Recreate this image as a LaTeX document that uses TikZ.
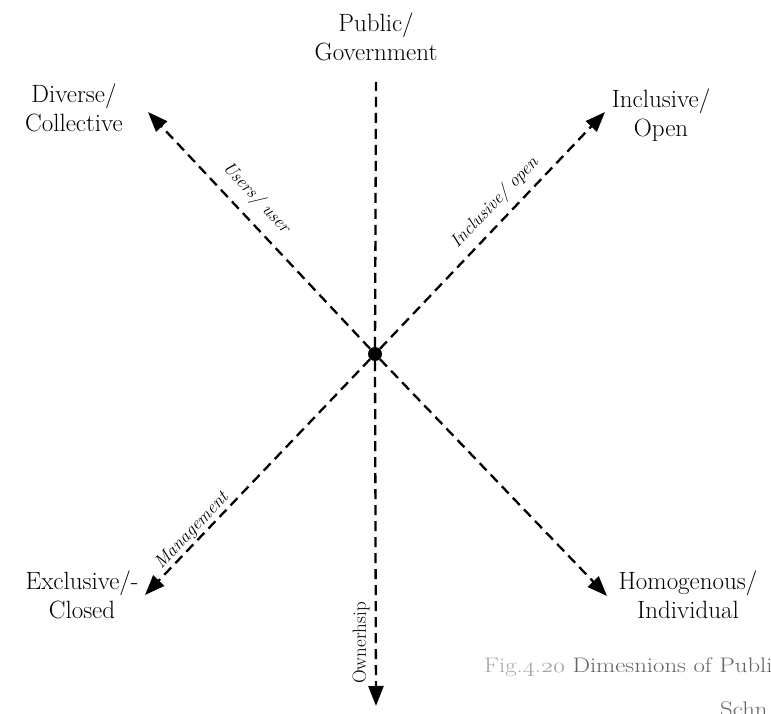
\documentclass[tikz,border=0pt]{standalone}
\usepackage{fontspec}
\usepackage{graphicx}
\usetikzlibrary{arrows.meta}
\definecolor{capgray}{HTML}{646464}
\definecolor{figgray}{HTML}{A8A8A8}
% old-style figures taken from the math italic font
\newcommand{\osnum}[1]{{\usefont{OML}{lmm}{m}{it}#1}}
\begin{document}
\begin{tikzpicture}[x=1pt,y=-1pt,
  axis/.style={line width=2.3pt, dash pattern=on 10pt off 6pt,
    -{Triangle[length=20pt,width=15pt]}},
  pole/.style={align=center, font=\fontsize{25}{29}\selectfont},
  axislabel/.style={font=\itshape\fontsize{18}{20}\selectfont, inner sep=0pt},
  caption/.style={anchor=base west, inner sep=0pt, text=capgray,
    font=\fontsize{21}{24}\selectfont},
]
\useasboundingbox (0,0) rectangle (771,714);
\clip (0,0) rectangle (771,714);

% centre of the cross
\node[circle, fill, inner sep=0pt, minimum size=14pt] (hub) at (375,354) {};

% axis ends
\coordinate (top) at (376,82);
\coordinate (bottom) at (376,706);
\coordinate (ul) at (148,112);
\coordinate (ur) at (605,112);
\coordinate (ll) at (145,595);
\coordinate (lr) at (607,596);

% axes
\draw[axis,-] (hub) -- (top);
\draw[axis] (hub) -- (bottom);
\draw[axis] (hub) -- (ul);
\draw[axis] (hub) -- (ur);
\draw[axis] (hub) -- (ll);
\draw[axis] (hub) -- (lr);

% pole names
\node[pole] (public) at (376,37) {Public/\\Government};
\node[pole] (diverse) at (74,108) {Diverse/\\Collective};
\node[pole] (inclusive) at (661,115) {Inclusive/\\Open};
\node[pole] (exclusive) at (82,595) {Exclusive/-\\Closed};
\node[pole] (homog) at (688,595) {Homogenous/\\Individual};

% axis names
\node[axislabel, rotate=-46.8] (users) at (256,198) {Users/ user};
\node[axislabel, rotate=46.5] (incl) at (495,203) {Inclusive/ open};
\node[axislabel, rotate=46.5] (mgmt) at (192,531) {Management};
\node[inner sep=0pt, rotate=90, font=\fontsize{19}{22}\selectfont] (own) at (361,643) {Ownerhsip};

% caption, running past the right and bottom edges
\node[caption] (cap1) at (484,672)
  {\scalebox{1.18}[1]{\textcolor{figgray}{Fig.\osnum{4}.\osnum{20}} Dimesnions of Publi}};
\node[caption] (cap2) at (720,716) {\scalebox{1.18}[1]{Schn}};
\end{tikzpicture}
\end{document}
